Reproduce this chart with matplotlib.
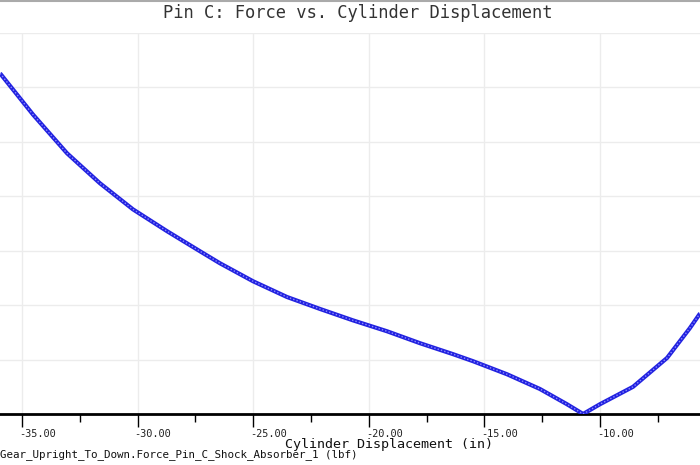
import matplotlib
matplotlib.use("Agg")
import matplotlib.pyplot as plt
import matplotlib.transforms as mtransforms
from matplotlib.lines import Line2D

# Data (force in lbf, arbitrary scale; y axis not labelled)
displacement = [-35.95, -34.52, -33.05, -31.63, -30.20, -28.73, -27.30, -26.44,
                -25.01, -23.54, -22.11, -20.68, -19.21, -17.78, -16.36, -15.49,
                -14.02, -12.60, -11.43, -10.73, -10.00, -8.57, -7.10, -6.11, -5.67]
force = [626, 550, 479, 424, 376, 336, 299, 277,
         244, 215, 193, 172, 152, 130, 110, 97,
         73, 46, 18, 0, 18, 50, 103, 158, 185]

major_ticks = [-35, -30, -25, -20, -15, -10]
major_labels = ["-35.00", "-30.00", "-25.00", "-20.00", "-15.00", "-10.00"]
minor_ticks = [-32.5, -27.5, -22.5, -17.5, -12.5, -7.5]
y_grid = [100, 200, 300, 400, 500, 600, 700]

title = "Pin C: Force vs. Cylinder Displacement"
xlabel = "Cylinder Displacement (in)"
legend_text = "Gear_Upright_To_Down.Force_Pin_C_Shock_Absorber_1 (lbf)"

W, H = 700, 465
fig = plt.figure(figsize=(W / 100, H / 100), dpi=100)
fig.patch.set_facecolor("white")

bottom = (H - 414) / H
top = (H - 33) / H
ax = fig.add_axes([0, bottom, 1, top - bottom])
ax.set_xlim(-35.95, -5.675)
ax.set_ylim(0, 700)

for s in ["top", "left", "right"]:
    ax.spines[s].set_visible(False)
ax.spines["bottom"].set_linewidth(2.0)
ax.spines["bottom"].set_color("black")

# grid
for xv in major_ticks:
    ax.axvline(xv, color="#ececec", lw=1.0, zorder=0)
for yv in y_grid:
    ax.axhline(yv, color="#ececec", lw=1.0, zorder=0)

ax.set_yticks([])
ax.set_xticks(major_ticks)
ax.set_xticklabels(major_labels, ha="left", family="DejaVu Sans Mono", fontsize=7.4,
                   color="#222222")
ax.set_xticks(minor_ticks, minor=True)
ax.tick_params(axis="x", which="major", direction="out", length=9, width=1, pad=1.5, color="black")
ax.tick_params(axis="x", which="minor", direction="out", length=6, width=1, color="black")
shift = mtransforms.ScaledTranslation(-3 / 100, 0, fig.dpi_scale_trans)
for lbl in ax.get_xticklabels():
    lbl.set_transform(lbl.get_transform() + shift)

# curve
ax.plot(displacement, force, color="#2222e0", lw=3.0, solid_capstyle="butt",
        solid_joinstyle="round", zorder=3)
ax.plot(displacement, force, color="#8c8cff", lw=1.0, linestyle=(0, (1, 1.5)), zorder=4)

# texts
fig.text(358 / W, 1 - 13 / H, title, ha="center", va="center",
         family="DejaVu Sans Mono", fontsize=12.3, color="#333333")
fig.text(389 / W, 1 - 444 / H, xlabel, ha="center", va="center",
         family="DejaVu Sans Mono", fontsize=9.6, color="#111111")
fig.text(0 / W, 1 - 455 / H, legend_text, ha="left", va="center",
         family="DejaVu Sans Mono", fontsize=7.8, color="#111111")

# top border line
fig.add_artist(Line2D([0, 1], [1 - 1 / H, 1 - 1 / H], transform=fig.transFigure,
                      color="#aaaaaa", lw=1.5))

fig.savefig("out.png", dpi=100, facecolor="white")
